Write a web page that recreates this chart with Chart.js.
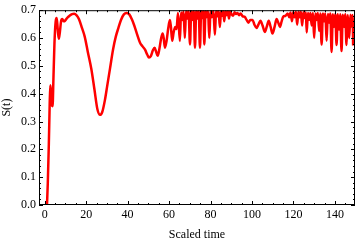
<!DOCTYPE html>
<html>
<head>
<meta charset="utf-8">
<script src="https://cdn.jsdelivr.net/npm/chart.js@4.4.1/dist/chart.umd.min.js"></script>
<style>
  html, body { margin: 0; padding: 0; background: #fff; }
  canvas { display: block; }
</style>
</head>
<body>
<canvas id="sChart" width="360" height="245"></canvas>
<script>
// scaled time values
const times = [
  1.1, 1.5, 2.0, 2.4, 2.7, 3.0, 3.4, 3.8, 4.2, 4.7, 5.3, 5.8, 6.3, 6.8, 7.3, 7.9, 8.5, 9.2, 9.8, 10.8,
  12.0, 13.2, 14.2, 15.3, 16.5, 17.8, 19.3, 20.8, 22.5, 24.0, 25.4, 26.7, 27.8, 29.0, 30.2, 31.5, 33.0, 34.3, 35.5, 36.8,
  38.2, 39.5, 40.8, 42.0, 43.2, 44.5, 46.0, 47.2, 48.4, 49.5, 50.3, 51.2, 52.2, 53.0, 53.8, 54.5, 55.3, 56.2, 56.9, 57.4,
  58.0, 58.8, 59.6, 60.4, 60.9, 61.5, 62.2, 63.0, 63.6,
  64.3, 65.2, 65.8, 66.4, 67.0, 67.6, 68.2, 68.8, 69.4, 70.1, 70.7, 71.3, 71.9, 72.5, 73.1, 73.7, 74.3, 74.9, 75.5, 76.1,
  76.6, 77.0, 77.6, 78.2, 78.8, 79.4, 80.0, 80.6, 81.4, 82.1, 82.7, 83.3, 83.9, 84.5, 85.1, 85.7, 86.1, 86.6, 87.2, 87.8,
  88.4, 88.9, 89.5, 90.1, 90.9, 91.6, 92.3, 93.0, 93.8, 94.5, 95.5, 96.5, 97.4, 98.3, 99.2, 100.3, 101.2, 102.2, 103.1, 104.1,
  105.1, 106.2, 107.1, 108.1, 109.0, 109.9, 110.9, 111.9, 112.7, 113.5, 114.3, 115.1, 116.2, 117.2, 118.0,
  118.6, 119.3, 119.9, 120.6, 121.2, 121.8, 122.4, 123.0, 123.6, 124.2, 124.8, 125.4, 126.0, 126.4, 127.0, 127.6, 128.2, 128.8,
  129.4, 130.0, 130.6, 131.2, 131.8, 132.4, 133.0, 133.6, 134.2, 134.8, 135.4, 136.0, 136.6, 137.2, 137.8, 138.4, 139.0, 139.6,
  140.2, 140.8, 141.4, 142.0, 142.6, 143.2, 143.8, 144.4, 145.0, 145.6, 146.2, 146.9, 147.5, 148.1, 148.5, 148.8
];
// S(t) values
const sValues = [
  0.0, 0.08, 0.22, 0.36, 0.43, 0.41, 0.36, 0.355, 0.45, 0.58, 0.66, 0.672, 0.63, 0.597, 0.62, 0.66, 0.668, 0.66, 0.662, 0.672,
  0.68, 0.686, 0.687, 0.682, 0.668, 0.64, 0.605, 0.55, 0.489, 0.415, 0.345, 0.324, 0.335, 0.375, 0.43, 0.49, 0.56, 0.605, 0.635, 0.665,
  0.685, 0.69, 0.685, 0.668, 0.645, 0.615, 0.583, 0.57, 0.558, 0.54, 0.53, 0.535, 0.556, 0.565, 0.55, 0.536, 0.56, 0.6, 0.616, 0.6,
  0.565, 0.59, 0.635, 0.665, 0.64, 0.59, 0.62, 0.64, 0.632,
  0.69, 0.589, 0.692, 0.665, 0.695, 0.6, 0.697, 0.67, 0.697, 0.577, 0.698, 0.665, 0.698, 0.565, 0.698, 0.67, 0.698, 0.565, 0.698, 0.672,
  0.698, 0.577, 0.698, 0.675, 0.698, 0.6, 0.698, 0.675, 0.698, 0.612, 0.698, 0.678, 0.698, 0.64, 0.698, 0.68, 0.697, 0.66, 0.697, 0.682,
  0.697, 0.67, 0.696, 0.686, 0.68, 0.693, 0.686, 0.69, 0.682, 0.688, 0.678, 0.676, 0.665, 0.655, 0.665, 0.665, 0.648, 0.636, 0.648, 0.662,
  0.645, 0.622, 0.64, 0.662, 0.64, 0.616, 0.64, 0.668, 0.655, 0.64, 0.66, 0.677, 0.68, 0.688, 0.675,
  0.692, 0.66, 0.693, 0.675, 0.694, 0.648, 0.694, 0.675, 0.694, 0.645, 0.693, 0.672, 0.692, 0.62, 0.69, 0.665, 0.69, 0.645,
  0.69, 0.6, 0.688, 0.665, 0.69, 0.625, 0.688, 0.577, 0.688, 0.66, 0.688, 0.59, 0.686, 0.655, 0.688, 0.55, 0.685, 0.64,
  0.686, 0.575, 0.685, 0.63, 0.685, 0.553, 0.684, 0.64, 0.685, 0.575, 0.683, 0.6, 0.684, 0.64, 0.683, 0.573
];

const xTicks = [0, 20, 40, 60, 80, 100, 120, 140];
const yTicks = [0.0, 0.1, 0.2, 0.3, 0.4, 0.5, 0.6, 0.7];
const xMinorStep = 5;
const yMinorStep = 0.02;

// Mathematica-like frame with inward ticks on all four sides
const frameTicks = {
  id: 'frameTicks',
  afterDraw(chart) {
    const { ctx, chartArea: a, scales: { x, y } } = chart;
    ctx.save();
    ctx.strokeStyle = '#000';
    ctx.lineWidth = 1;
    ctx.strokeRect(a.left + 0.5, a.top + 0.5, a.right - a.left - 1, a.bottom - a.top - 1);
    ctx.beginPath();
    for (let v = 0; v <= x.max; v += xMinorStep) {
      const px = Math.round(x.getPixelForValue(v)) + 0.5;
      const len = v % 20 === 0 ? 4 : 2;
      ctx.moveTo(px, a.bottom); ctx.lineTo(px, a.bottom - len);
      ctx.moveTo(px, a.top); ctx.lineTo(px, a.top + len);
    }
    for (let i = 0; i * yMinorStep <= y.max + 1e-9; i++) {
      const py = Math.round(y.getPixelForValue(i * yMinorStep)) + 0.5;
      const len = i % 5 === 0 ? 4 : 2;
      ctx.moveTo(a.left, py); ctx.lineTo(a.left + len, py);
      ctx.moveTo(a.right, py); ctx.lineTo(a.right - len, py);
    }
    ctx.stroke();
    ctx.restore();
  }
};

const tickFont = { family: 'Liberation Serif', size: 12 };

new Chart(document.getElementById('sChart').getContext('2d'), {
  type: 'line',
  data: {
    datasets: [{
      data: times.map((t, i) => ({ x: t, y: sValues[i] })),
      borderColor: '#ff0000',
      borderWidth: 2.5,
      pointRadius: 0,
      cubicInterpolationMode: 'monotone',
      fill: false
    }]
  },
  options: {
    responsive: false,
    animation: false,
    devicePixelRatio: 1,
    layout: { padding: { top: 7, right: 5, left: 0, bottom: 0 } },
    plugins: { legend: { display: false }, tooltip: { enabled: false } },
    scales: {
      x: {
        type: 'linear',
        min: -2.75,
        max: 149.7,
        grid: { display: false, drawTicks: false },
        border: { display: false },
        afterBuildTicks: s => { s.ticks = xTicks.map(v => ({ value: v })); },
        afterFit: s => { s.height = 40; },
        ticks: { color: '#000', font: tickFont, padding: 3, maxRotation: 0 },
        title: { display: true, text: 'Scaled time', color: '#000', font: tickFont, padding: { top: 0, bottom: 3 } }
      },
      y: {
        min: 0,
        max: 0.7,
        grid: { display: false, drawTicks: false },
        border: { display: false },
        afterBuildTicks: s => { s.ticks = yTicks.map(v => ({ value: v })); },
        afterFit: s => { s.width = 39; },
        ticks: { color: '#000', font: tickFont, padding: 3, callback: v => v.toFixed(1) },
        title: { display: true, text: 'S(t)', color: '#000', font: tickFont, padding: { top: 0, bottom: 0 } }
      }
    }
  },
  plugins: [frameTicks]
});
</script>
</body>
</html>
